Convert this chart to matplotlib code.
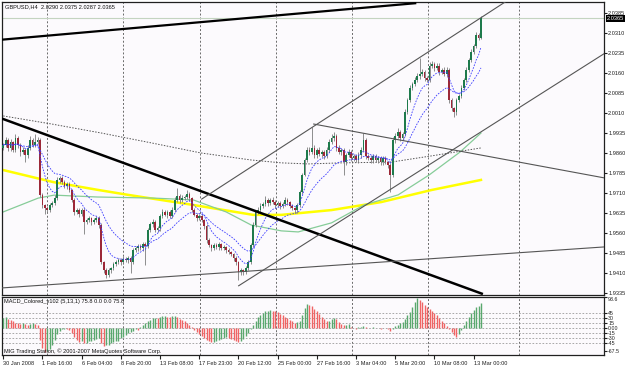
import numpy as np
import pandas as pd
import matplotlib
matplotlib.use('Agg')
import matplotlib.pyplot as plt
import matplotlib.transforms as mtransforms

plt.rcParams['font.family'] = ['Liberation Sans', 'DejaVu Sans']

# ---- data (GBPUSD, H4) ----
first_open = 1.9880
closes = [
    1.9890, 1.9909, 1.9879, 1.9901, 1.9871, 1.9916, 1.9890, 1.9864, 1.9871, 1.9853, 1.9879, 1.9909, 1.9890, 1.9901,
    1.9909, 1.9703, 1.9665, 1.9654, 1.9646, 1.9665, 1.9673, 1.9691, 1.9759, 1.9766, 1.9751, 1.9736, 1.9744, 1.9721,
    1.9684, 1.9639, 1.9646, 1.9631, 1.9646, 1.9601, 1.9609, 1.9616, 1.9601, 1.9609, 1.9616, 1.9590, 1.9451, 1.9421,
    1.9403, 1.9421, 1.9429, 1.9444, 1.9451, 1.9459, 1.9451, 1.9463, 1.9459, 1.9466, 1.9451, 1.9496, 1.9504, 1.9511,
    1.9504, 1.9519, 1.9511, 1.9571, 1.9594, 1.9601, 1.9571, 1.9579, 1.9624, 1.9639, 1.9628, 1.9639, 1.9624, 1.9646,
    1.9684, 1.9699, 1.9684, 1.9691, 1.9695, 1.9706, 1.9691, 1.9646, 1.9628, 1.9616, 1.9624, 1.9609, 1.9586, 1.9534,
    1.9515, 1.9504, 1.9515, 1.9508, 1.9519, 1.9504, 1.9508, 1.9496, 1.9489, 1.9481, 1.9466, 1.9451, 1.9414, 1.9421,
    1.9414, 1.9429, 1.9451, 1.9515, 1.9590, 1.9639, 1.9646, 1.9661, 1.9669, 1.9684, 1.9673, 1.9684, 1.9676, 1.9665,
    1.9673, 1.9661, 1.9669, 1.9684, 1.9676, 1.9661, 1.9654, 1.9646, 1.9665, 1.9714, 1.9778, 1.9834, 1.9871, 1.9864,
    1.9879, 1.9853, 1.9871, 1.9856, 1.9864, 1.9849, 1.9871, 1.9901, 1.9916, 1.9924, 1.9879, 1.9864, 1.9871, 1.9826,
    1.9853, 1.9864, 1.9841, 1.9849, 1.9834, 1.9853, 1.9871, 1.9909, 1.9849, 1.9841, 1.9834, 1.9849, 1.9834, 1.9841,
    1.9826, 1.9841, 1.9826, 1.9815, 1.9778, 1.9909, 1.9924, 1.9939, 1.9916, 1.9931, 2.0014, 2.0059, 2.0104, 2.0119,
    2.0134, 2.0149, 2.0156, 2.0164, 2.0141, 2.0134, 2.0186, 2.0194, 2.0179, 2.0186, 2.0164, 2.0171, 2.0156, 2.0171,
    2.0059, 2.0029, 2.0014, 2.0059, 2.0074, 2.0104, 2.0134, 2.0171, 2.0209, 2.0239, 2.0261, 2.0303, 2.0290, 2.0365,
]
# wick lengths beyond the body, in pips
wick_up = [
    8, 12, 6, 10, 5, 14, 8, 6, 10, 7, 12, 15, 6, 30,
    10, 6, 8, 5, 6, 7, 6, 10, 12, 8, 6, 9, 8, 6,
    5, 6, 8, 6, 7, 6, 8, 6, 5, 7, 6, 8, 6, 5,
    6, 8, 5, 7, 6, 8, 6, 10, 6, 7, 6, 8, 7, 6,
    8, 6, 9, 7, 8, 10, 6, 8, 9, 12, 7, 6, 8, 10,
    12, 28, 8, 10, 6, 16, 6, 5, 8, 6, 7, 6, 5, 6,
    6, 5, 8, 6, 7, 5, 6, 5, 6, 5, 4, 6, 5, 6,
    5, 6, 8, 6, 10, 8, 10, 12, 8, 14, 6, 8, 10, 6,
    8, 6, 7, 10, 6, 5, 6, 5, 6, 8, 6, 8, 10, 12,
    80, 10, 8, 12, 8, 6, 10, 12, 15, 14, 8, 10, 8, 6,
    8, 10, 6, 8, 6, 10, 12, 26, 8, 6, 10, 8, 6, 8,
    6, 8, 6, 5, 6, 10, 12, 15, 8, 6, 10, 8, 10, 8,
    10, 12, 60, 12, 8, 6, 14, 10, 8, 12, 10, 8, 10, 12,
    8, 6, 5, 8, 6, 10, 8, 12, 8, 10, 8, 12, 6, 10,
]
wick_dn = [
    8, 6, 10, 12, 8, 6, 10, 14, 8, 25, 10, 6, 8, 6,
    8, 8, 10, 22, 12, 8, 6, 8, 6, 10, 8, 6, 10, 8,
    6, 10, 8, 10, 6, 45, 8, 6, 10, 6, 8, 10, 8, 12,
    12, 8, 10, 6, 8, 6, 10, 8, 6, 10, 40, 8, 6, 10,
    8, 12, 70, 8, 6, 10, 8, 6, 10, 8, 6, 10, 8, 6,
    8, 6, 10, 8, 6, 8, 10, 8, 6, 10, 8, 6, 10, 12,
    8, 10, 6, 8, 10, 8, 6, 10, 8, 6, 10, 12, 30, 10,
    10, 8, 6, 6, 8, 6, 8, 10, 6, 8, 10, 8, 6, 10,
    8, 10, 6, 8, 10, 8, 6, 10, 12, 6, 8, 6, 8, 10,
    8, 12, 10, 8, 12, 10, 8, 6, 8, 10, 12, 8, 10, 50,
    10, 8, 12, 10, 8, 12, 10, 8, 10, 8, 12, 10, 8, 10,
    12, 10, 8, 10, 64, 8, 10, 8, 12, 8, 6, 8, 6, 8,
    6, 8, 10, 8, 10, 8, 6, 8, 10, 8, 10, 8, 6, 10,
    10, 12, 19, 10, 8, 6, 8, 6, 8, 6, 8, 6, 8, 3,
]
macd = [
    30, 33, 28, 24, 20, 16, 14, 13, 15, 12, 10, 12, 14, 12,
    9, -35, -60, -72, -68, -62, -50, -35, -18, -8, -4, -2, -3, -6,
    -15, -28, -36, -42, -40, -45, -44, -40, -38, -36, -34, -30, -45, -55,
    -52, -50, -46, -42, -40, -38, -30, -26, -20, -16, -12, -8, -4, -6,
    2, 8, 14, 20, 25, 30, 31, 30, 33, 35, 36, 34, 33, 35,
    36, 32, 28, 24, 20, 15, 10, 2, -6, -12, -18, -25, -30, -35,
    -40, -42, -42, -40, -36, -32, -30, -28, -30, -32, -36, -40, -42, -40,
    -32, -24, -14, -4, 10, 22, 32, 39, 45, 50, 52, 54, 52, 50,
    48, 42, 38, 34, 30, 25, 20, 16, 18, 20, 40, 60, 72, 70,
    66, 58, 50, 42, 34, 26, 20, 22, 28, 30, 26, 18, 12, 8,
    10, 12, 4, 0, -3, 2, 4, 6, 3, 1, -1, 2, 0, 1,
    -2, 0, -1, -3, -9, -2, 5, 10, 14, 18, 28, 38, 48, 62,
    78, 90, 86, 78, 70, 62, 58, 52, 46, 40, 30, 22, 14, 6,
    -4, -12, -20, -27, -18, -6, 8, 20, 32, 44, 54, 62, 68, 75.8,
]

# slow moving averages, read at a few bars (bar index, price)
ma_dot_bar = [0, 19.6, 40, 60.4, 80.8, 101, 113.5, 124.5, 138, 158.4, 174.7, 195]
ma_dot_val = [1.9999, 1.9969, 1.9935, 1.9898, 1.9860, 1.9834, 1.9823, 1.9819, 1.9823, 1.9826, 1.9849, 1.9879]
ma_yel_bar = [0, 20.4, 38.4, 51, 77, 102, 113.5, 134, 154.3, 174.7, 195]
ma_yel_val = [1.9796, 1.9751, 1.9722, 1.9703, 1.9666, 1.9628, 1.9628, 1.9646, 1.9676, 1.9721, 1.9759]
ma_grn_bar = [0, 14.3, 20.8, 38.4, 61.2, 77.6, 91, 101.2, 113.5, 120.4, 134, 147.3, 161.2, 173.9, 186.5, 195]
ma_grn_val = [1.9639, 1.9691, 1.9702, 1.9695, 1.9691, 1.9684, 1.9639, 1.9590, 1.9568, 1.9564, 1.9598, 1.9665, 1.9703, 1.9778, 1.9864, 1.9935]

# hand-drawn lines: (bar1, price1, bar2, price2, width, colour)
trend_lines = [
    (-0.5, 2.0285, 168.6, 2.0422, 1.6, '#000000'),
    (-0.5, 1.9989, 195.8, 1.9331, 1.8, '#000000'),
    (80.8, 1.9686, 206.5, 2.0436, 0.8, '#555555'),
    (95.9, 1.9361, 245.7, 2.0235, 0.8, '#555555'),
    (126.5, 1.9969, 245.7, 1.9766, 0.8, '#555555'),
    (-0.5, 1.9354, 245.7, 1.9508, 0.8, '#555555'),
]

price_ticks = [1.9335, 1.9410, 1.9485, 1.9560, 1.9635, 1.9710, 1.9785, 1.9860,
               1.9935, 2.0010, 2.0085, 2.0160, 2.0235, 2.0310, 2.0385]
macd_ticks = [93.6, 45, 30, 15, 0, -15, -30, -45, -67.5]
macd_tick_labels = ['93.6', '45', '30', '15', '0.00', '-15', '-30', '-45', '-67.5']
macd_levels = [45, 30, 15, 0, -15, -30, -45]
time_bars = [0, 16, 32, 48, 64, 80, 96, 112, 128, 144, 160, 176, 192]
time_labels = ['30 Jan 2008', '1 Feb 16:00', '6 Feb 04:00', '8 Feb 20:00', '13 Feb 08:00',
               '17 Feb 23:00', '20 Feb 12:00', '25 Feb 00:00', '27 Feb 16:00', '3 Mar 04:00',
               '5 Mar 20:00', '10 Mar 08:00', '13 Mar 00:00']
week_lines = [18, 49, 80.4, 111.4, 142.4, 173.5, 210.6]
last_price = 2.0365

# ---- figure ----
W, H = 625, 368
fig = plt.figure(figsize=(W / 100, H / 100), dpi=100, facecolor='white')
bg = '#fcfafd'
fs = 4.1

def px_axes(x0, y0, x1, y1):
    return fig.add_axes([x0 / W, 1 - y1 / H, (x1 - x0) / W, (y1 - y0) / H])

ax = px_axes(2, 2, 604, 295)
axm = px_axes(2, 297, 604, 355)
xmax = -0.5 + 602 / 2.45
for a in (ax, axm):
    a.set_facecolor(bg)
    a.set_xlim(-0.5, xmax)
    for s in a.spines.values():
        s.set_color('#202020')
        s.set_linewidth(0.9)
    for wl in week_lines:
        a.axvline(wl, color='#6a6a6a', lw=0.7, ls=(0, (2, 2)), zorder=1)

# candles
closes = np.array(closes)
idx = np.arange(len(closes))
opens = np.r_[first_open, closes[:-1]]
pip = 0.0001
highs = np.maximum(opens, closes) + np.array(wick_up) * pip
lows = np.minimum(opens, closes) - np.array(wick_dn) * pip
bull = closes >= opens
ax.vlines(idx, lows, highs, color='#7c7c7c', lw=0.6, zorder=3)
body = np.maximum(np.abs(closes - opens), 0.00008)
ax.bar(idx, body, bottom=np.minimum(opens, closes), width=0.7,
       color=np.where(bull, '#1e7a4c', '#9c2838'), edgecolor='none', zorder=3)

# moving averages
ax.plot(ma_yel_bar, ma_yel_val, color='#ffff00', lw=1.8, zorder=2)
ax.plot(ma_grn_bar, ma_grn_val, color='#86cc98', lw=0.9, zorder=2)
ax.plot(ma_dot_bar, ma_dot_val, color='#555555', lw=0.7, ls=(0, (1.5, 1.5)), zorder=2)
cs = pd.Series(closes)
ax.plot(idx, cs.ewm(span=8, adjust=False).mean(), color='#3c3cff', lw=0.6, ls=(0, (2, 1.5)), zorder=4)
ax.plot(idx, cs.ewm(span=21, adjust=False).mean(), color='#3c3cff', lw=0.6, ls=(0, (2, 1.5)), zorder=4)

for b1, p1, b2, p2, lw, col in trend_lines:
    ax.plot([b1, b2], [p1, p2], color=col, lw=lw, zorder=5, solid_capstyle='butt')

ax.axhline(last_price, color='#c4d4c0', lw=0.8, zorder=1)

ylo = 2.0385 - 282 * 0.000375
yhi = 2.0385 + 11 * 0.000375
ax.set_ylim(ylo, yhi)
ax.yaxis.tick_right()
ax.set_yticks(price_ticks)
ax.set_yticklabels([f'{t:.4f}' for t in price_ticks])
ax.tick_params(axis='y', labelsize=fs, length=2, pad=1, colors='#202020')
ax.set_xticks([])
tr = mtransforms.blended_transform_factory(ax.transAxes, ax.transData)
ax.text(1.0045, last_price, f'{last_price:.4f}', transform=tr, fontsize=fs, color='white',
        va='center', ha='left', zorder=6,
        bbox=dict(boxstyle='square,pad=0.12', fc='black', ec='none'))

# MACD histogram
macd = np.array(macd)
rising = np.r_[True, macd[1:] >= macd[:-1]]
axm.vlines(idx, 0, macd, colors=np.where(rising, '#5aa86e', '#f06464'), lw=1.0, zorder=3)
for lv in macd_levels:
    axm.axhline(lv, color='#9a9a9a', lw=0.6, ls=(0, (2, 2)), zorder=1)
axm.set_ylim(-81, 93)
axm.yaxis.tick_right()
axm.set_yticks(macd_ticks)
axm.set_yticklabels(macd_tick_labels)
axm.tick_params(axis='y', labelsize=fs - 0.3, length=2, pad=1, colors='#202020')
ylabels = axm.get_yticklabels()
ylabels[0].set_va('top')
axm.set_xticks(time_bars)
axm.set_xticklabels(time_labels, ha='left')
axm.tick_params(axis='x', labelsize=fs, length=3, pad=1.5, colors='#202020')

fig.text(5 / W, 1 - 7 / H, 'GBPUSD,H4  2.0290 2.0375 2.0287 2.0365', fontsize=fs, va='center', color='#101010')
fig.text(4 / W, 1 - 302 / H, 'MACD_Colored_v102 (5,13,1) 75.8 0.0 0.0 75.8', fontsize=fs, va='center', color='#101010')
fig.text(4 / W, 1 - 351 / H, 'MIG Trading Station, © 2001-2007 MetaQuotes Software Corp.', fontsize=fs,
         va='center', color='#101010')

fig.savefig('out.png', dpi=100, facecolor='white')
